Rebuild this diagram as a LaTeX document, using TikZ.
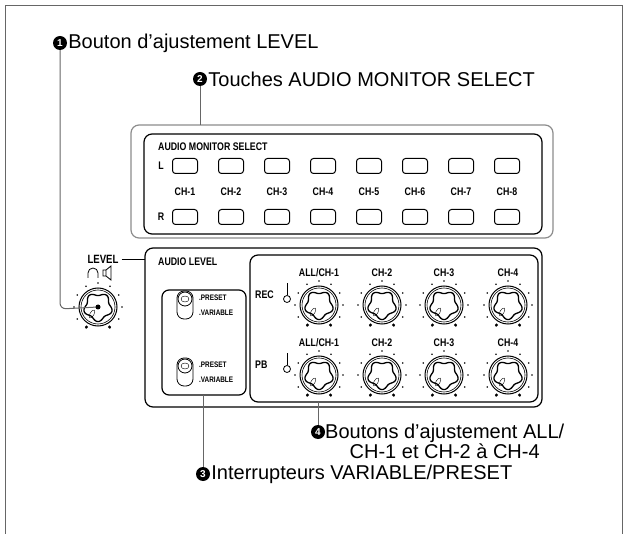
\documentclass[tikz,border=0pt]{standalone}
\usepackage{fontspec}
\setmainfont{Liberation Sans}
\usetikzlibrary{positioning}

\tikzset{
  callout/.style={circle,fill=black,text=white,inner sep=0pt,minimum size=14pt,font=\fontsize{10}{10}\bfseries},
  calltext/.style={anchor=west,inner sep=1pt,font=\fontsize{20}{20}\selectfont},
  lead/.style={draw=black!60,line width=1pt},
  panel/.style={font=\fontsize{11}{12}\bfseries,xscale=.8,inner sep=0pt},
  btn/.style={draw,line width=1pt,rounded corners=3pt,minimum width=25pt,minimum height=15pt,inner sep=0pt},
  knob/.style={circle,draw,line width=1pt,minimum size=38pt,inner sep=0pt},
  led/.style={circle,draw,thick,minimum size=7pt,inner sep=0pt},
  knobpic/.pic={
    \draw[line width=.6pt] (0,0) circle (17);
    \draw[line width=1.3pt,smooth,samples=60,domain=0:360] plot ({\x}:{13+1.6*cos(5*\x-90)});
    \draw[thin,rotate around={-30:(-6,7)}] (-6,7) ellipse (2 and 4.5);
    \foreach \a in {120,150,...,420} \fill (\a:24) circle (0.8);
    \fill (60:23) circle (1.6) (120:23) circle (1.6);
  },
  switchpic/.pic={
    \draw[thick,rounded corners=7pt] (-8,-14) rectangle (8,14);
    \draw[thick] (0,-6) circle (7);
    \draw (0,-6) ellipse (4 and 3);
  }
}

\begin{document}
\begin{tikzpicture}[x=1pt,y=-1pt]
\useasboundingbox (0,0) rectangle (626,534);
%outer frame
\draw[black!60,line width=1pt] (5,534) -- (5,6) -- (622,6) -- (622,534);

%monitor select panel
\draw[black!45,line width=1.2pt,rounded corners=8pt] (131,125) rectangle (553,238);
\draw[line width=1.2pt,rounded corners=8pt] (144,134) rectangle (542,234);
\node[panel,anchor=west] (amstitle) at (158,147) {AUDIO MONITOR SELECT};
\node[panel] (lrow) at (161,166) {L};
\node[panel] (rrow) at (161,217) {R};
\foreach \i in {1,...,8}{
  \node[btn] (l\i) at ({139+46*\i},166) {};
  \node[btn] (r\i) at ({139+46*\i},217) {};
  \node[panel] (ch\i) at ({139+46*\i},192) {CH-\i};
}

%audio level panel
\draw[line width=1.2pt,rounded corners=8pt] (145,248) rectangle (542,407);
\node[panel,anchor=west] (altitle) at (158,262) {AUDIO LEVEL};
\draw[line width=1.2pt,rounded corners=7pt] (162,290) rectangle (246,395);
\draw[line width=1.2pt,rounded corners=8pt] (250,255) rectangle (538,402);

%switches
\foreach \s/\y in {1/305,2/372}{
  \pic at (185,\y) {switchpic};
  \node[panel,anchor=west,font=\fontsize{8}{8}\bfseries] (pre\s) at (199,{\y-7}) {.PRESET};
  \node[panel,anchor=west,font=\fontsize{8}{8}\bfseries] (var\s) at (199,{\y+8}) {.VARIABLE};
}

%knobs
\foreach \r/\y/\n in {1/305/REC,2/375/PB}{
  \node[panel,anchor=west] (row\r) at (255,{\y-10}) {\n};
  \node[led] (led\r) at (287,{\y-6}) {};
  \draw[thick] (led\r.north) -- ++(0,-12);
  \foreach \c/\x/\t in {1/319/ALL\slash CH-1,2/382/CH-2,3/444/CH-3,4/508/CH-4}{
    \node[knob] (k\r\c) at (\x,\y) {};
    \pic at (\x,\y) {knobpic};
    \node[panel] (t\r\c) at (\x,{\y-32}) {\t};
  }
}

%level knob
\node[knob] (lvl) at (98,307) {};
\pic at (98,307) {knobpic};
\node[panel,font=\fontsize{12}{12}\bfseries] (lvltxt) at (103,259) {LEVEL};
\draw[thick] (lvltxt.east) ++(3,0) -- (145,259);
\draw[thick] (88,278) -- (88,273) arc (180:360:5) -- (98,278);
\draw[thick] (103,270) rectangle (106,276) (106,270) -- (111,266) -- (111,280) -- (106,276);

%callouts
\node[callout] (c1) at (60,43) {1};
\node[calltext] (c1t) at (c1.east) {Bouton d’ajustement LEVEL};
\draw[lead,rounded corners=6pt] (c1.south) -- (60,309) -- (lvl.center);
\fill (lvl.center) circle (2.5);

\node[callout] (c2) at (200,79) {2};
\node[calltext] (c2t) at (c2.east) {Touches AUDIO MONITOR SELECT};
\draw[lead] (c2.south) -- (200,125);

\node[callout] (c4) at (318,432) {4};
\node[calltext,anchor=north west,align=center,font=\fontsize{20}{15}\selectfont] (c4t) at (324,423) {Boutons d’ajustement ALL/\\CH-1 et CH-2 à CH-4};
\draw[lead] (318,402) -- (c4.north);

\node[callout] (c3) at (203,474) {3};
\node[calltext] (c3t) at (c3.east) {Interrupteurs VARIABLE/PRESET};
\draw[lead] (203,395) -- (c3.north);
\end{tikzpicture}
\end{document}
